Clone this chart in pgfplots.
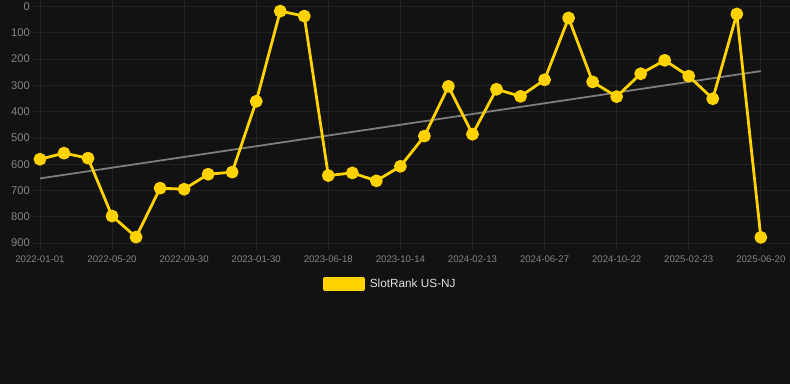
\documentclass[border=0pt]{standalone}
\usepackage{fontspec}
\setmainfont{Liberation Sans}
\usepackage{pgfplots}
\pgfplotsset{compat=1.18}
\definecolor{bgcol}{HTML}{121212}
\definecolor{gridcol}{HTML}{222222}
\definecolor{tickcol}{HTML}{858585}
\definecolor{goldcol}{HTML}{FFD200}
\definecolor{trendcol}{HTML}{7E7E7E}
\definecolor{legtext}{HTML}{E0E0E0}
\begin{document}
\begin{tikzpicture}
\fill[bgcol] (0pt,0pt) rectangle (790pt,-384pt);
\begin{axis}[
  at={(33pt,0pt)}, anchor=north west,
  scale only axis, width=757pt, height=250pt,
  xmin=-0.29, xmax=31.2,
  ymin=-23, ymax=927, y dir=reverse,
  axis line style={draw=none},
  major tick length=0pt,
  xtick={0,3,...,30},
  xticklabels={2022-01-01,2022-05-20,2022-09-30,2023-01-30,2023-06-18,2023-10-14,2024-02-13,2024-06-27,2024-10-22,2025-02-23,2025-06-20},
  ytick={0,100,...,900},
  grid=major,
  major grid style={draw=gridcol, line width=0.7pt},
  /pgf/number format/assume math mode=true,
  xticklabel style={font=\fontsize{9.6}{11}\selectfont, text=tickcol, inner sep=0pt, yshift=-5pt},
  yticklabel style={font=\fontsize{11.2}{13}\selectfont, text=tickcol, inner sep=0pt, xshift=-3pt},
  clip=false,
  legend style={at={(0.383,-0.136)}, anchor=west, draw=none, fill=none,
    font=\fontsize{11.8}{13}\selectfont, text=legtext, inner sep=0pt,
    nodes={inner sep=0pt}},
]
\addplot[trendcol, line width=1.8pt, forget plot] coordinates {(0,654) (30,246)};
\addplot[goldcol, line width=2.8pt, line join=round, mark=*, mark size=5pt,
  mark options={fill=goldcol, draw=none, line join=round},
  legend image code/.code={\fill[goldcol] (0pt,-5.5pt) rectangle (39pt,5.5pt); \path (44pt,0pt);}]
coordinates {
(0,581) (1,558) (2,577) (3,797) (4,877) (5,691) (6,695) (7,638) (8,630) (9,361)
(10,18) (11,37) (12,643) (13,633) (14,663) (15,608) (16,493) (17,304) (18,486) (19,315)
(20,342) (21,279) (22,44) (23,287) (24,343) (25,256) (26,205) (27,265) (28,351) (29,29)
(30,878)
};
\addlegendentry{SlotRank US-NJ}
\end{axis}
\end{tikzpicture}
\end{document}
